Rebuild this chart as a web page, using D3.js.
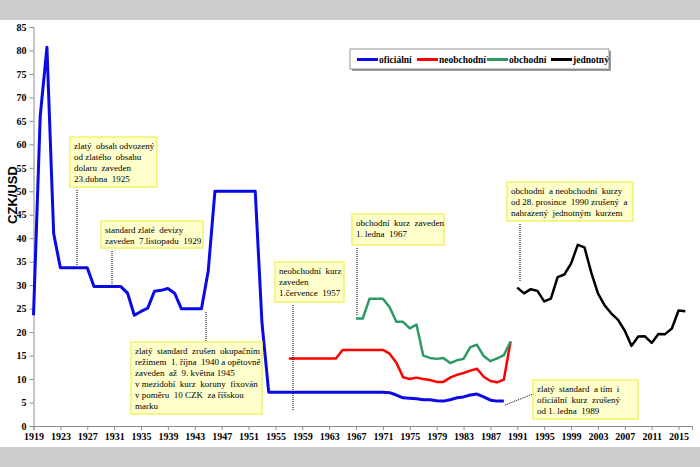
<!DOCTYPE html>
<html><head><meta charset="utf-8">
<script src="https://cdn.jsdelivr.net/npm/d3@7/dist/d3.min.js"></script>
<style>
html,body{margin:0;padding:0;background:#fff;}
svg text{font-family:"Liberation Serif","Times New Roman",serif;}
</style></head>
<body><svg id="c" width="700" height="467"></svg>
<script>
const oficialniYears = d3.range(1919, 1990);
const oficialni = [23.6,66,80.7,41,33.7,33.7,33.7,33.7,33.7,29.7,29.7,29.7,29.7,29.7,28.3,23.6,24.4,25.1,28.7,28.9,29.3,28.3,25,25,25,25,33,50,50,50,50,50,50,50,22,7.2,
7.2,7.2,7.2,7.2,7.2,7.2,7.2,7.2,7.2,7.2,7.2,7.2,7.2,7.2,7.2,7.2,7.2,7.1,6.6,6.0,5.9,5.8,5.6,5.6,5.4,5.3,5.6,6.0,6.2,6.6,6.8,6.2,5.5,5.3,5.3];
const neobchodniYears = d3.range(1957, 1991);
const neobchodni = [14.4,14.4,14.4,14.4,14.4,14.4,14.4,14.4,16.2,16.2,16.2,16.2,16.2,16.2,16.2,15.4,13.5,10.4,10.0,10.3,10.0,9.8,9.4,9.4,10.3,10.9,11.3,11.8,12.2,10.5,9.6,9.3,9.9,18.0];
const obchodniYears = d3.range(1967, 1991);
const obchodni = [22.9,22.9,27.1,27.1,27.1,25.3,22.2,22.2,20.8,21.6,15.0,14.5,14.3,14.5,13.4,14.0,14.3,16.8,17.3,14.9,13.8,14.4,15.1,18.0];
const jednotnyYears = d3.range(1991, 2017);
const jednotny = [29.48,28.26,29.15,28.78,26.54,27.14,31.71,32.28,34.6,38.59,38.04,32.74,28.23,25.7,23.95,22.6,20.29,17.07,19.06,19.1,17.69,19.58,19.57,20.76,24.6,24.44];
const yTicks = d3.range(0, 86, 5);
const xTickLabels = d3.range(1919, 2016, 4);
const seriesNames = ["oficiální","neobchodní","obchodní","jednotný"];
const seriesColors = ["#0a0ae6","#ff0000","#2e9a63","#000000"];
const notes = [
  {lines:["zlatý  obsah odvozený","od zlatého  obsahu","dolaru  zaveden","23.dubna  1925"], box:[70,137,87,50], lead:[[77,190],[77,266]]},
  {lines:["standard zlaté  devizy","zaveden  7.listopadu  1929"], box:[101,221,102,27], lead:[[112,251],[112,284]]},
  {lines:["zlatý  standard  zrušen  okupačním","režimem  1. října  1940 a opětovně","zaveden  až  9. května 1945","v mezidobí  kurz  koruny  fixován","v poměru  10 CZK  za říšskou","marku"], box:[131,342,131,72], lead:[[206,312],[206,342]]},
  {lines:["neobchodní  kurz","zaveden","1.července  1957"], box:[275,262,69,40], lead:[[293,305],[293,410]]},
  {lines:["obchodní  kurz  zaveden","1. ledna  1967"], box:[352,214,92,31], lead:[[357,248],[357,315]]},
  {lines:["obchodní  a neobchodní  kurzy","od 28. prosince  1990 zrušený  a","nahrazený  jednotným  kurzem"], box:[507,182,126,39], lead:[[520,224],[520,282]]},
  {lines:["zlatý  standard  a tím  i","oficiální  kurz  zrušený","od 1. ledna  1989"], box:[533,380,105,39], lead:[[505,405],[533,394]]}
];

const svg = d3.select("#c");
svg.append("rect").attr("x",0).attr("y",0).attr("width",700).attr("height",20).attr("fill","#cccccc");
svg.append("rect").attr("x",0).attr("y",447).attr("width",700).attr("height",20).attr("fill","#cccccc");

const x = d3.scaleLinear().domain([1919, 2017]).range([33.5, 692]);
const y = d3.scaleLinear().domain([0, 85]).range([426, 27]);

const yAxis = svg.append("g").attr("transform","translate(33.5,0)")
  .call(d3.axisLeft(y).tickValues(yTicks).tickSize(4).tickPadding(3));
const xAxis = svg.append("g").attr("transform","translate(0,426)")
  .call(d3.axisBottom(x).tickValues(xTickLabels).tickFormat(d3.format("d")).tickSize(4).tickPadding(3));
[yAxis,xAxis].forEach(g=>{
  g.select(".domain").attr("stroke","#8c8c8c");
  g.selectAll(".tick line").attr("stroke","#8c8c8c");
  g.selectAll(".tick text").attr("fill","#000").style("font-size","10px").style("font-weight","bold").style("font-family","Liberation Serif");
});

svg.append("text").attr("transform","translate(17,195) rotate(-90)").attr("text-anchor","middle")
  .style("font-family","Liberation Sans, Arial, sans-serif").style("font-weight","bold").style("font-size","13px").text("CZK/USD");

const line = d3.line().x(d=>x(d[0])).y(d=>y(d[1]));
const series = [
  [oficialniYears, oficialni, 3],
  [neobchodniYears, neobchodni, 2.5],
  [obchodniYears, obchodni, 2.5],
  [jednotnyYears, jednotny, 2.5]
];
series.forEach((s,i)=>{
  svg.append("path").datum(s[0].map((yr,j)=>[yr,s[1][j]]))
    .attr("d",line).attr("fill","none").attr("stroke",seriesColors[i])
    .attr("stroke-width",s[2]).attr("stroke-linejoin","round");
});

notes.forEach(n=>{
  svg.append("path").attr("d",d3.line()(n.lead)).attr("stroke","#000").attr("stroke-width",1).attr("stroke-dasharray","1,1").attr("fill","none");
  svg.append("rect").attr("x",n.box[0]).attr("y",n.box[1]).attr("width",n.box[2]).attr("height",n.box[3])
    .attr("fill","#ffffcc").attr("stroke","#f2f26a").attr("stroke-width",1.5);
  const t = svg.append("text").style("font-size","9px").style("white-space","pre").attr("fill","#000");
  n.lines.forEach((l,k)=>{
    t.append("tspan").attr("x",n.box[0]+4).attr("y",n.box[1]+11.5+k*11.1).text(l);
  });
});

const lg = svg.append("g");
lg.append("rect").attr("x",352).attr("y",51).attr("width",259).attr("height",20).attr("fill","#999");
lg.append("rect").attr("x",350).attr("y",49).attr("width",259).attr("height",20).attr("fill","#fff").attr("stroke","#7a7a7a").attr("stroke-width",0.8);
const legX = [357, 417, 487, 551];
seriesNames.forEach((nm,i)=>{
  lg.append("line").attr("x1",legX[i]).attr("x2",legX[i]+21).attr("y1",59.5).attr("y2",59.5).attr("stroke",seriesColors[i]).attr("stroke-width",3);
  lg.append("text").attr("x",legX[i]+22).attr("y",63).style("font-size","9.5px").style("font-weight","bold").text(nm);
});
</script></body></html>
